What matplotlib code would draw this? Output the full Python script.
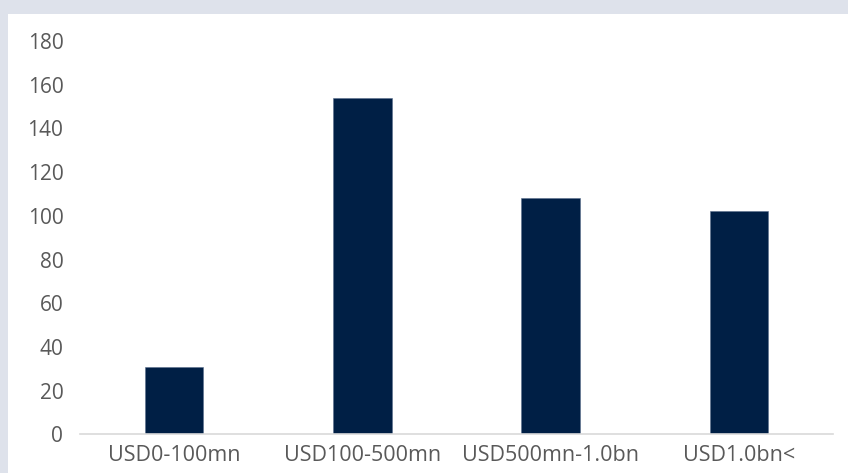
import matplotlib
matplotlib.use("Agg")
import matplotlib.pyplot as plt
from matplotlib.patches import Rectangle

categories = ["USD0-100mn", "USD100-500mn", "USD500mn-1.0bn", "USD1.0bn<"]
values = [31, 154, 108, 102]
yticks = [0, 20, 40, 60, 80, 100, 120, 140, 160, 180]

plt.rcParams['font.family'] = ['Open Sans', 'DejaVu Sans']

W, H = 848, 473
fig = plt.figure(figsize=(W / 100, H / 100), dpi=100)
fig.patch.set_facecolor('#dee2eb')
bg = Rectangle((8 / W, 0), 1, 1 - 14 / H, transform=fig.transFigure,
               facecolor='white', edgecolor='none', zorder=-10)
fig.patches.append(bg)

ax = fig.add_axes([80 / W, (H - 434.3) / H, 753 / W, 393.3 / H])
ax.set_zorder(5)
ax.set_facecolor('white')
x = list(range(len(categories)))
ax.bar(x, values, width=0.31, color='#001f45', edgecolor='#5a6f8c', linewidth=0.4, zorder=2)
ax.set_xlim(-0.5, len(categories) - 0.5)
ax.set_ylim(0, 180)
ax.set_yticks(yticks)
ax.set_yticklabels([str(v) for v in yticks])
ax.set_xticks(x)
ax.set_xticklabels(categories)
for s in ['left', 'right', 'top']:
    ax.spines[s].set_visible(False)
ax.spines['bottom'].set_color('#d9d9d9')
ax.spines['bottom'].set_linewidth(1.2)
ax.tick_params(axis='y', length=0, pad=12, labelsize=15, labelcolor='#595959')
ax.tick_params(axis='x', length=0, pad=8, labelsize=15.5, labelcolor='#595959')

fig.savefig('out.png', dpi=100, facecolor=fig.get_facecolor())
